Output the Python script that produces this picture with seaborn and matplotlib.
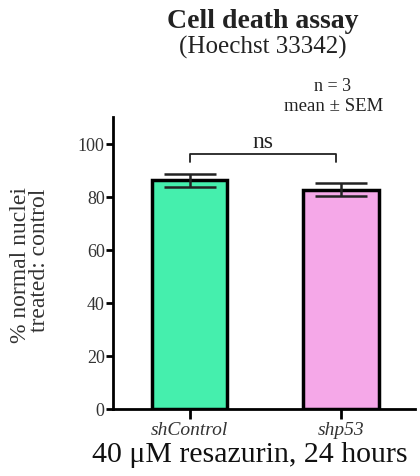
import matplotlib
matplotlib.use("Agg")
import matplotlib.pyplot as plt
import seaborn as sns
import pandas as pd

groups = ["shControl", "shp53"]
means = [86.1, 82.6]
sems = [2.3, 2.4]
colors = ["#45EFAD", "#F5A8E8"]
yticks = [0, 20, 40, 60, 80, 100]

sns.set_theme(style="white")
plt.rcParams["font.family"] = ["Liberation Serif", "DejaVu Serif"]

df = pd.DataFrame({"group": groups, "mean": means})

fig = plt.figure(figsize=(4.2, 4.77), dpi=100)
ax = fig.add_axes([0.269, 0.1405, 0.719, 0.612])

sns.barplot(data=df, x="group", y="mean", hue="group", palette=colors,
            saturation=1, width=0.5, edgecolor="black", linewidth=2.5,
            legend=False, errorbar=None, ax=ax)
ax.errorbar(range(len(groups)), means, yerr=sems, fmt="none",
            ecolor="#222222", elinewidth=1.8, capsize=19, capthick=1.8,
            zorder=5)

ax.set_xlim(-0.507, 1.49)
ax.set_ylim(0, 110)
ax.set_yticks(yticks)
ax.set_yticklabels([str(t) for t in yticks], fontsize=13, color="#333333")
ax.set_xticks(range(len(groups)))
ax.set_xticklabels(groups, fontsize=14, style="italic", color="#333333")
ax.set_xlabel("")
ax.set_ylabel("")
for s in ["top", "right"]:
    ax.spines[s].set_visible(False)
for s in ["left", "bottom"]:
    ax.spines[s].set_linewidth(2)
    ax.spines[s].set_color("black")
ax.tick_params(axis="y", direction="out", length=5, width=2, color="black", pad=1, left=True)
ax.tick_params(axis="x", direction="out", length=7, width=2, color="black", pad=2, bottom=True)

# significance bracket
yb, yt = 93.2, 96.0
ax.plot([0, 0, 0.97, 0.97], [yb, yt, yt, yb], color="#222222", lw=1.3,
        clip_on=False)
ax.text(0.485, 97.0, "ns", ha="center", va="bottom", fontsize=17,
        color="#222222")

fig.text(0.626, 0.954, "Cell death assay", ha="center", va="center",
         fontsize=20, fontweight="bold", color="#222222")
fig.text(0.626, 0.901, "(Hoechst 33342)", ha="center", va="center",
         fontsize=18, color="#222222")
fig.text(0.793, 0.818, "n = 3", ha="center", va="center", fontsize=13,
         color="#222222")
fig.text(0.795, 0.776, "mean \u00b1 SEM", ha="center", va="center",
         fontsize=13.5, color="#222222")
fig.text(0.048, 0.445, "% normal nuclei", ha="center", va="center",
         rotation=90, fontsize=17, color="#333333")
fig.text(0.095, 0.455, "treated: control", ha="center", va="center",
         rotation=90, fontsize=17, color="#333333")
fig.text(0.595, 0.047, "40 \u03bcM resazurin, 24 hours", ha="center",
         va="center", fontsize=21.5, color="#111111")

fig.savefig("out.png", dpi=100)
